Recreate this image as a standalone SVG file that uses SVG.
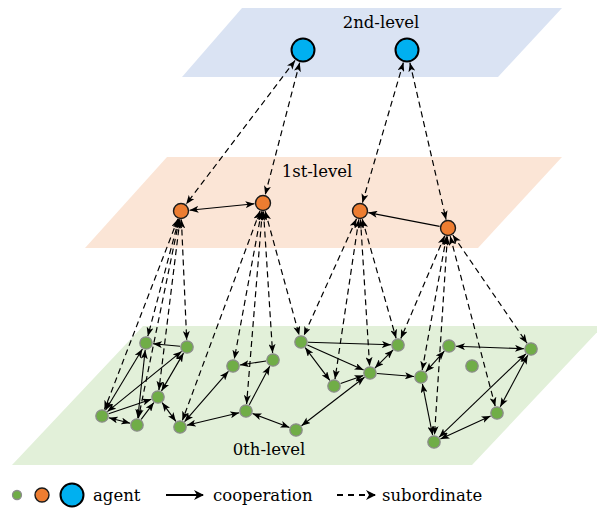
<svg xmlns="http://www.w3.org/2000/svg" width="597" height="513" viewBox="0 0 597 513">
<style>
.lbl{font-family:"DejaVu Serif","Liberation Serif",serif;font-size:16.5px;fill:#000}
.g{fill:#70ad47;stroke:#8c8c8c;stroke-width:1.3}
.o{fill:#ed7d31;stroke:#1a1a1a;stroke-width:1.4}
.b{fill:#00b0f0;stroke:#000;stroke-width:2}
.sol{stroke:#000;stroke-width:1.1;fill:none;marker-end:url(#ah)}
.dbl{marker-start:url(#ah)}
.dsh{stroke:#000;stroke-width:1.2;fill:none;stroke-dasharray:6 4;marker-start:url(#ah);marker-end:url(#ah)}
</style>
<defs>
<marker id="ah" markerUnits="userSpaceOnUse" markerWidth="9" markerHeight="7" viewBox="0 0 9 7" refX="9" refY="3.5" orient="auto-start-reverse">
<path d="M0,0 L9,3.5 L0,7 L2.2,3.5 Z" fill="#000"/>
</marker>
<marker id="ahL" markerUnits="userSpaceOnUse" markerWidth="10" markerHeight="10" viewBox="0 0 10 10" refX="9" refY="5" orient="auto">
<path d="M0,0 L10,5 L0,10 L3,5 Z" fill="#000"/>
</marker>
</defs>

<g id="planes">
<polygon id="plane2" points="242,8 562,8 498,77 182,77" fill="#dae3f3"/>
<polygon id="plane1" points="167,157 562,157 478,248 85,248" fill="#fbe5d6"/>
<polygon id="plane0" points="143,326 603,326 472,465 12,465" fill="#e2f0d9"/>
<text class="lbl" x="381" y="28" text-anchor="middle">2nd-level</text>
<text class="lbl" x="317" y="177" text-anchor="middle">1st-level</text>
<text class="lbl" x="269" y="455" text-anchor="middle">0th-level</text>
</g>

<g id="connectors">
<!-- subordinate (dashed) -->
<line class="dsh" x1="295.1" y1="60.4" x2="186.1" y2="204.2"/>
<line class="dsh" x1="299.7" y1="62.6" x2="265.2" y2="194.8"/>
<line class="dsh" x1="403.4" y1="62.5" x2="362.4" y2="202.8"/>
<line class="dsh" x1="409.9" y1="62.7" x2="446.1" y2="219.7"/>
<line class="dsh" x1="177.9" y1="218.9" x2="104.5" y2="409.5"/>
<line class="dsh" x1="178.8" y1="219.2" x2="147.8" y2="336.2"/>
<line class="dsh" x1="179.3" y1="219.3" x2="138.4" y2="418.1"/>
<line class="dsh" x1="180.0" y1="219.4" x2="158.9" y2="390.1"/>
<line class="dsh" x1="181.4" y1="219.5" x2="186.7" y2="340.0"/>
<line class="dsh" x1="260.0" y1="211.0" x2="182.4" y2="420.4"/>
<line class="dsh" x1="261.5" y1="211.4" x2="234.3" y2="359.1"/>
<line class="dsh" x1="262.3" y1="211.5" x2="246.6" y2="404.0"/>
<line class="dsh" x1="263.5" y1="211.5" x2="272.6" y2="353.0"/>
<line class="dsh" x1="265.2" y1="211.2" x2="299.2" y2="335.2"/>
<line class="dsh" x1="356.5" y1="218.8" x2="303.9" y2="335.6"/>
<line class="dsh" x1="358.8" y1="219.4" x2="335.0" y2="379.1"/>
<line class="dsh" x1="360.5" y1="219.5" x2="369.6" y2="366.0"/>
<line class="dsh" x1="362.3" y1="219.2" x2="396.1" y2="338.3"/>
<line class="dsh" x1="444.7" y1="235.8" x2="400.8" y2="338.6"/>
<line class="dsh" x1="446.5" y1="236.4" x2="422.2" y2="370.1"/>
<line class="dsh" x1="447.4" y1="236.5" x2="434.5" y2="435.0"/>
<line class="dsh" x1="450.2" y1="236.2" x2="495.2" y2="406.2"/>
<line class="dsh" x1="452.8" y1="235.0" x2="527.0" y2="343.2"/>
<!-- cooperation (solid) -->
<line class="sol dbl" x1="189.5" y1="210.2" x2="254.5" y2="203.8"/>
<line class="sol" x1="439.6" y1="226.4" x2="368.3" y2="212.6"/>
<line class="sol" x1="180.0" y1="346.3" x2="153.0" y2="343.7"/>
<line class="sol dbl" x1="142.4" y1="349.0" x2="105.6" y2="410.0"/>
<line class="sol dbl" x1="145.2" y1="350.0" x2="137.8" y2="418.0"/>
<line class="sol dbl" x1="107.4" y1="411.6" x2="181.6" y2="351.4"/>
<line class="sol" x1="108.6" y1="413.8" x2="151.4" y2="399.2"/>
<line class="sol dbl" x1="108.8" y1="417.7" x2="130.2" y2="423.3"/>
<line class="sol" x1="141.2" y1="419.4" x2="153.8" y2="402.6"/>
<line class="sol dbl" x1="183.5" y1="353.1" x2="161.5" y2="390.9"/>
<line class="sol dbl" x1="162.1" y1="402.6" x2="175.9" y2="421.4"/>
<line class="sol dbl" x1="184.6" y1="421.7" x2="228.4" y2="371.3"/>
<line class="sol dbl" x1="186.8" y1="425.3" x2="239.2" y2="412.7"/>
<line class="sol" x1="266.1" y1="361.0" x2="239.9" y2="365.0"/>
<line class="sol" x1="249.3" y1="404.8" x2="269.7" y2="366.2"/>
<line class="sol dbl" x1="252.5" y1="413.5" x2="289.5" y2="427.5"/>
<line class="sol" x1="308" y1="342.2" x2="391" y2="344.8"/>
<line class="sol" x1="307.4" y1="344.9" x2="363.6" y2="370.1"/>
<line class="sol dbl" x1="305.2" y1="347.6" x2="329.8" y2="380.4"/>
<line class="sol" x1="340.6" y1="383.6" x2="363.4" y2="375.4"/>
<line class="sol dbl" x1="374.9" y1="368.1" x2="393.1" y2="349.9"/>
<line class="sol" x1="377" y1="373.5" x2="414" y2="376.5"/>
<line class="sol dbl" x1="301.5" y1="425.7" x2="364.5" y2="377.3"/>
<line class="sol dbl" x1="425.7" y1="371.8" x2="444.3" y2="351.2"/>
<line class="sol dbl" x1="456" y1="346.3" x2="524" y2="348.7"/>
<line class="sol dbl" x1="422.4" y1="383.9" x2="432.6" y2="435.1"/>
<line class="sol dbl" x1="439.1" y1="437.2" x2="525.9" y2="353.8"/>
<line class="sol dbl" x1="440.4" y1="439.1" x2="490.6" y2="415.9"/>
<line class="sol dbl" x1="500.3" y1="406.8" x2="527.7" y2="355.2"/>
</g>

<g id="level2">
<circle id="n-b1" class="b" cx="303" cy="50" r="11.5"/>
<circle id="n-b2" class="b" cx="407" cy="50" r="11.5"/>
</g>
<g id="level1">
<circle id="n-o1" class="o" cx="181" cy="211" r="7.5"/>
<circle id="n-o2" class="o" cx="263" cy="203" r="7.5"/>
<circle id="n-o3" class="o" cx="360" cy="211" r="7.5"/>
<circle id="n-o4" class="o" cx="448" cy="228" r="7.5"/>
</g>
<g id="level0">
<circle id="n-a" class="g" cx="146" cy="343" r="6.2"/>
<circle id="n-b" class="g" cx="187" cy="347" r="6.2"/>
<circle id="n-c" class="g" cx="158" cy="397" r="6.2"/>
<circle id="n-d" class="g" cx="102" cy="416" r="6.2"/>
<circle id="n-e" class="g" cx="137" cy="425" r="6.2"/>
<circle id="n-f" class="g" cx="180" cy="427" r="6.2"/>
<circle id="n-g" class="g" cx="233" cy="366" r="6.2"/>
<circle id="n-h" class="g" cx="273" cy="360" r="6.2"/>
<circle id="n-i" class="g" cx="246" cy="411" r="6.2"/>
<circle id="n-j" class="g" cx="296" cy="430" r="6.2"/>
<circle id="n-k" class="g" cx="301" cy="342" r="6.2"/>
<circle id="n-l" class="g" cx="398" cy="345" r="6.2"/>
<circle id="n-m" class="g" cx="370" cy="373" r="6.2"/>
<circle id="n-n" class="g" cx="334" cy="386" r="6.2"/>
<circle id="n-o" class="g" cx="421" cy="377" r="6.2"/>
<circle id="n-p" class="g" cx="449" cy="346" r="6.2"/>
<circle id="n-q" class="g" cx="472" cy="366" r="6.2"/>
<circle id="n-r" class="g" cx="531" cy="349" r="6.2"/>
<circle id="n-s" class="g" cx="497" cy="413" r="6.2"/>
<circle id="n-t" class="g" cx="434" cy="442" r="6.2"/>
</g>

<g id="legend">
<circle class="g" cx="17" cy="495" r="4.5"/>
<circle class="o" cx="42" cy="495" r="7"/>
<circle class="b" cx="72" cy="495" r="11.5"/>
<text class="lbl" x="93" y="501">agent</text>
<line x1="166" y1="495" x2="203" y2="495" stroke="#000" stroke-width="1.8" marker-end="url(#ahL)"/>
<text class="lbl" x="213" y="501">cooperation</text>
<line x1="337" y1="495" x2="375" y2="495" stroke="#000" stroke-width="1.8" stroke-dasharray="6 5" marker-end="url(#ahL)"/>
<text class="lbl" x="382" y="501">subordinate</text>
</g>
</svg>
